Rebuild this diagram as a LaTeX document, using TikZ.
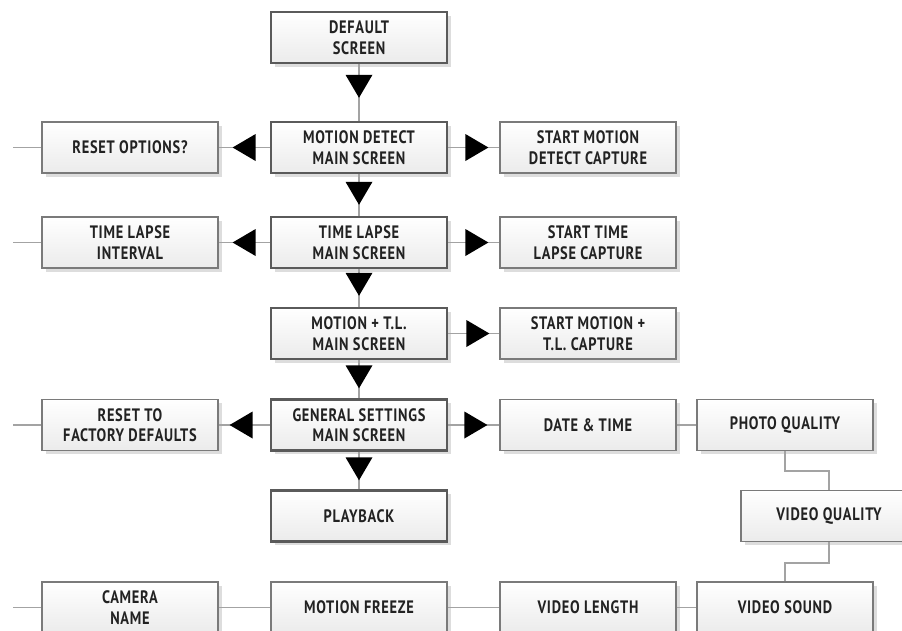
\documentclass[tikz,border=0pt]{standalone}
\usepackage{fontspec}
\setmainfont{PT Sans}[FakeStretch=0.8, LetterSpace=4]
\usetikzlibrary{arrows.meta,decorations.markings,shadows}
\definecolor{linegray}{HTML}{A3A3A3}
\definecolor{boxborder}{HTML}{7A7A7A}
\definecolor{mainborder}{HTML}{5A5A5A}
\definecolor{boxbottom}{HTML}{EBEBEB}
\definecolor{shadowgray}{HTML}{DDDDDD}
\definecolor{textdark}{HTML}{222222}
\begin{document}
\begin{tikzpicture}[x=1pt,y=-1pt,
  box/.style={draw=boxborder, line width=1.2pt, top color=white, bottom color=boxbottom,
    minimum width=176pt, minimum height=51pt, inner sep=0pt, align=center,
    font=\fontsize{18}{20.5}\selectfont\bfseries, text=textdark,
    drop shadow={shadow xshift=3.5pt, shadow yshift=-3.5pt, fill=shadowgray, opacity=1}},
  mainbox/.style={box, draw=mainborder, line width=2.4pt},
  conn/.style={draw=linegray, line width=1.8pt},
  arr/.style={conn, postaction={decorate}, decoration={markings,
    mark=at position #1 with {\arrow{Triangle[length=23pt,width=27pt,color=black,line width=0pt]}}}}
]
\useasboundingbox (0,0) rectangle (902,630);
\clip (0,0) rectangle (902,630);
% main column
\node[mainbox] (DS)  at (359,37.5)  {DEFAULT\\SCREEN};
\node[mainbox] (MD)  at (359,147.5) {MOTION DETECT\\MAIN SCREEN};
\node[mainbox] (TL)  at (359,242.5) {TIME LAPSE\\MAIN SCREEN};
\node[mainbox] (MTL) at (359,333.5) {MOTION + T.L.\\MAIN SCREEN};
\node[mainbox] (GS)  at (359,425)   {GENERAL SETTINGS\\MAIN SCREEN};
\node[mainbox] (PB)  at (359,516)   {PLAYBACK};
% left column
\node[box] (RO)  at (130,147.5) {RESET OPTIONS?};
\node[box] (TLI) at (130,242.5) {TIME LAPSE\\INTERVAL};
\node[box] (RF)  at (130,425)   {RESET TO\\FACTORY DEFAULTS};
% right column
\node[box] (SMD) at (588,147.5) {START MOTION\\DETECT CAPTURE};
\node[box] (STL) at (588,242.5) {START TIME\\LAPSE CAPTURE};
\node[box] (SMT) at (588,333.5) {START MOTION +\\T.L. CAPTURE};
\node[box] (DT)  at (588,425)   {DATE \& TIME};
\node[box] (PQ)  at (785,425)   {PHOTO QUALITY};
\node[box] (VQ)  at (829,516)   {VIDEO QUALITY};
% bottom row
\node[box] (VS)  at (785,607.5) {VIDEO SOUND};
\node[box] (VL)  at (588,607.5) {VIDEO LENGTH};
\node[box] (MF)  at (359,607.5) {MOTION FREEZE};
\node[box] (CN)  at (130,607.5) {CAMERA\\NAME};
% stubs
\coordinate (s1) at (13,147.5);
\coordinate (s2) at (13,242.5);
\coordinate (s3) at (13,425);
\coordinate (s4) at (13,607.5);
% connectors
\draw[arr=-23pt] (DS.south) -- (MD.north);
\draw[arr=-11pt] (MD.south) -- (TL.north);
\draw[arr=-11pt] (TL.south) -- (MTL.north);
\draw[arr=-10pt] (MTL.south) -- (GS.north);
\draw[arr=-9pt]  (GS.south) -- (PB.north);
\draw[arr=-11pt] (MD.east) -- (SMD.west);
\draw[arr=-11pt] (TL.east) -- (STL.west);
\draw[arr=-10pt] (MTL.east) -- (SMT.west);
\draw[arr=-12pt] (GS.east) -- (DT.west);
\draw[arr=-14pt] (MD.west) -- (RO.east);
\draw[arr=-14pt] (TL.west) -- (TLI.east);
\draw[arr=-11pt] (GS.west) -- (RF.east);
\draw[conn] (RO.west) -- (s1);
\draw[conn] (TLI.west) -- (s2);
\draw[conn] (RF.west) -- (s3);
\draw[conn] (CN.west) -- (s4);
\draw[conn] (DT.east) -- (PQ.west);
\draw[conn] (PQ.south) -- ++(0,20) -| (VQ.north);
\draw[conn] (VQ.south) -- ++(0,21) -| (VS.north);
\draw[conn] (CN.east) -- (MF.west);
\draw[conn] (MF.east) -- (VL.west);
\draw[conn] (VL.east) -- (VS.west);
\end{tikzpicture}
\end{document}
